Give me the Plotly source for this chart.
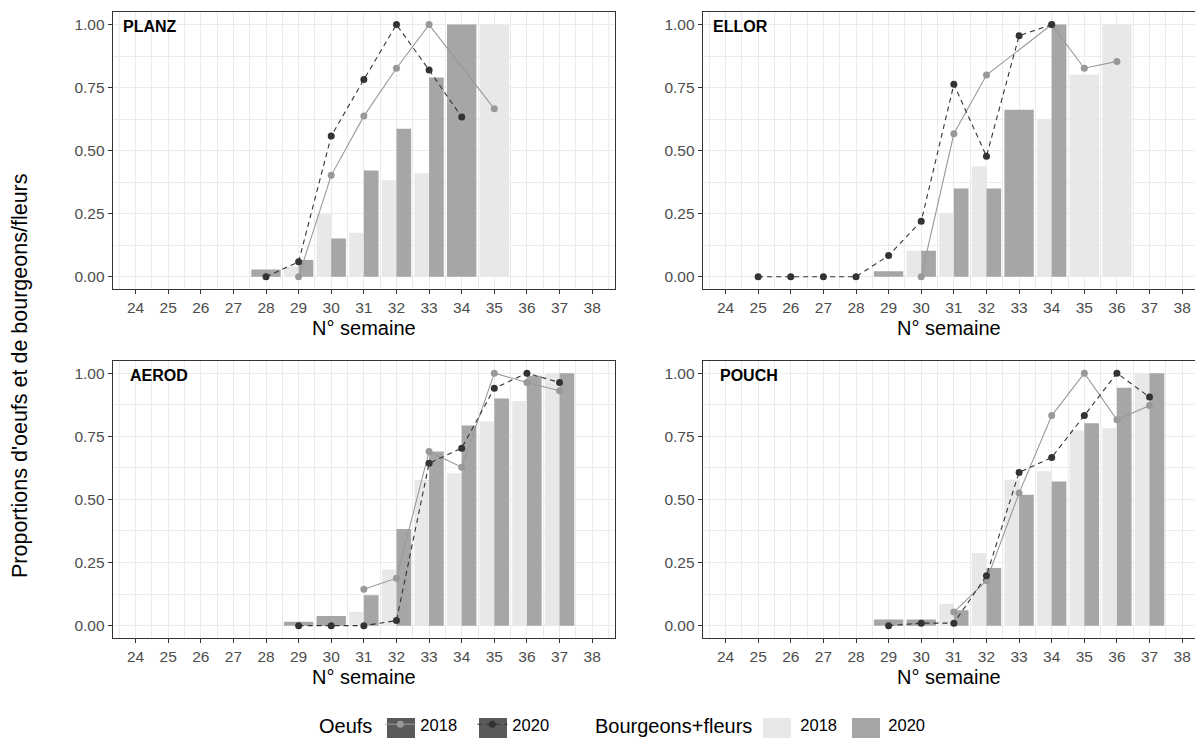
import plotly.graph_objects as go

# ---------------- data ----------------
sites = ["PLANZ", "ELLOR", "AEROD", "POUCH"]
week_ticks = list(range(24, 39))
y_ticks = [0.0, 0.25, 0.5, 0.75, 1.0]

# Bourgeons+fleurs (bars)
planz_bud18_weeks = [29, 30, 31, 32, 33, 35]
planz_bud18 = [0.04, 0.248, 0.174, 0.383, 0.41, 1.0]
planz_bud20_weeks = [28, 29, 30, 31, 32, 33, 34]
planz_bud20 = [0.029, 0.066, 0.152, 0.421, 0.587, 0.79, 1.0]

ellor_bud18_weeks = [30, 31, 32, 34, 35, 36]
ellor_bud18 = [0.103, 0.253, 0.438, 0.624, 0.802, 1.0]
ellor_bud20_weeks = [29, 30, 31, 32, 33, 34]
ellor_bud20 = [0.022, 0.103, 0.35, 0.35, 0.662, 1.0]

aerod_bud18_weeks = [31, 32, 33, 34, 35, 36, 37]
aerod_bud18 = [0.055, 0.222, 0.577, 0.604, 0.808, 0.89, 1.0]
aerod_bud20_weeks = [29, 30, 31, 32, 33, 34, 35, 36, 37]
aerod_bud20 = [0.016, 0.038, 0.12, 0.383, 0.69, 0.793, 0.90, 0.99, 1.0]

pouch_bud18_weeks = [31, 32, 33, 34, 35, 36, 37]
pouch_bud18 = [0.087, 0.288, 0.578, 0.611, 0.773, 0.782, 1.0]
pouch_bud20_weeks = [29, 30, 31, 32, 33, 34, 35, 36, 37]
pouch_bud20 = [0.024, 0.024, 0.061, 0.228, 0.518, 0.571, 0.802, 0.942, 1.0]

# Oeufs (points + lines)
planz_egg18_weeks = [29, 30, 31, 32, 33, 35]
planz_egg18 = [0.0, 0.402, 0.637, 0.827, 1.0, 0.666]
planz_egg20_weeks = [28, 29, 30, 31, 32, 33, 34]
planz_egg20 = [0.0, 0.059, 0.558, 0.782, 1.0, 0.82, 0.633]

ellor_egg18_weeks = [30, 31, 32, 34, 35, 36]
ellor_egg18 = [0.0, 0.567, 0.80, 1.0, 0.827, 0.854]
ellor_egg20_weeks = [25, 26, 27, 28, 29, 30, 31, 32, 33, 34]
ellor_egg20 = [0.0, 0.0, 0.0, 0.0, 0.084, 0.22, 0.763, 0.478, 0.956, 1.0]

aerod_egg18_weeks = [31, 32, 33, 34, 35, 36, 37]
aerod_egg18 = [0.144, 0.188, 0.69, 0.627, 1.0, 0.963, 0.93]
aerod_egg20_weeks = [29, 30, 31, 32, 33, 34, 35, 36, 37]
aerod_egg20 = [0.0, 0.0, 0.0, 0.02, 0.643, 0.703, 0.94, 1.0, 0.963]

pouch_egg18_weeks = [31, 32, 33, 34, 35, 36, 37]
pouch_egg18 = [0.054, 0.178, 0.525, 0.832, 1.0, 0.815, 0.872]
pouch_egg20_weeks = [29, 30, 31, 32, 33, 34, 35, 36, 37]
pouch_egg20 = [0.0, 0.01, 0.01, 0.198, 0.607, 0.666, 0.832, 1.0, 0.905]

bud18_weeks = [planz_bud18_weeks, ellor_bud18_weeks, aerod_bud18_weeks, pouch_bud18_weeks]
bud18_vals = [planz_bud18, ellor_bud18, aerod_bud18, pouch_bud18]
bud20_weeks = [planz_bud20_weeks, ellor_bud20_weeks, aerod_bud20_weeks, pouch_bud20_weeks]
bud20_vals = [planz_bud20, ellor_bud20, aerod_bud20, pouch_bud20]
egg18_weeks = [planz_egg18_weeks, ellor_egg18_weeks, aerod_egg18_weeks, pouch_egg18_weeks]
egg18_vals = [planz_egg18, ellor_egg18, aerod_egg18, pouch_egg18]
egg20_weeks = [planz_egg20_weeks, ellor_egg20_weeks, aerod_egg20_weeks, pouch_egg20_weeks]
egg20_vals = [planz_egg20, ellor_egg20, aerod_egg20, pouch_egg20]

# ---------------- style ----------------
W, H = 1195, 738
FONT = "Liberation Sans"
C_BAR18 = "#E8E8E8"
C_BAR20 = "#A6A6A6"
C_EGG18 = "#999999"
C_EGG20 = "#333333"
C_KEY = "#5A5A5A"
BAR_W = 0.9

# panel boxes in pixels (left, right, top, bottom)
panels_px = [(112.7, 615.0, 12.0, 289.3), (702.7, 1205.0, 12.0, 289.3),
             (112.7, 615.0, 360.5, 638.3), (702.7, 1205.0, 360.5, 638.3)]
x_lo, x_hi = 23.3, 38.7
label_dx = [8, 8, 15, 15]

fig = go.Figure()


def dodge(weeks, other_weeks, first):
    widths, offsets = [], []
    for w in weeks:
        if w in other_weeks:
            widths.append(BAR_W / 2)
            offsets.append(-BAR_W / 2 if first else 0.0)
        else:
            widths.append(BAR_W)
            offsets.append(-BAR_W / 2)
    return widths, offsets


for i, site in enumerate(sites):
    sfx = "" if i == 0 else str(i + 1)
    xa, ya = "x" + sfx, "y" + sfx
    w18, o18 = dodge(bud18_weeks[i], bud20_weeks[i], True)
    w20, o20 = dodge(bud20_weeks[i], bud18_weeks[i], False)
    fig.add_trace(go.Bar(x=bud18_weeks[i], y=bud18_vals[i], width=w18, offset=o18,
                         marker=dict(color=C_BAR18, line=dict(width=0)),
                         name="2018", legend="legend2", showlegend=(i == 0),
                         xaxis=xa, yaxis=ya))
    fig.add_trace(go.Bar(x=bud20_weeks[i], y=bud20_vals[i], width=w20, offset=o20,
                         marker=dict(color=C_BAR20, line=dict(width=0)),
                         name="2020", legend="legend2", showlegend=(i == 0),
                         xaxis=xa, yaxis=ya))
    fig.add_trace(go.Scatter(x=egg18_weeks[i], y=egg18_vals[i], mode="lines+markers",
                             line=dict(color=C_EGG18, width=1.1),
                             marker=dict(color=C_EGG18, size=7),
                             name="2018", legend="legend", showlegend=(i == 0),
                             xaxis=xa, yaxis=ya))
    fig.add_trace(go.Scatter(x=egg20_weeks[i], y=egg20_vals[i], mode="lines+markers",
                             line=dict(color=C_EGG20, width=1.1, dash="5px,4px"),
                             marker=dict(color=C_EGG20, size=7),
                             name="2020", legend="legend", showlegend=(i == 0),
                             xaxis=xa, yaxis=ya))

layout = dict(width=W, height=H, autosize=False,
              margin=dict(l=0, r=0, t=0, b=0, autoexpand=False),
              paper_bgcolor="white", plot_bgcolor="white",
              barmode="overlay",
              font=dict(family=FONT, color="#000000"),
              showlegend=True)

annotations = []
for i, site in enumerate(sites):
    sfx = "" if i == 0 else str(i + 1)
    l, r, t, b = panels_px[i]
    r_vis = min(r, W)
    x_end = x_lo + (x_hi - x_lo) * (r_vis - l) / (r - l)
    right_panel = r > W
    layout["xaxis" + sfx] = dict(
        domain=[l / W, r_vis / W], anchor="y" + sfx,
        range=[x_lo, x_end], tickmode="array", tickvals=week_ticks,
        ticktext=[str(v) for v in week_ticks],
        ticks="outside", ticklen=4, tickwidth=1, tickcolor="#333333",
        tickfont=dict(size=15.5, color="#4D4D4D", family=FONT),
        showgrid=True, gridcolor="#EBEBEB", gridwidth=1,
        minor=dict(dtick=0.5, tick0=24, showgrid=True, gridcolor="#EBEBEB", gridwidth=0.6, ticks=""),
        showline=True, linecolor="#333333", linewidth=1.1, mirror=True,
        zeroline=False, automargin=False,
        title=dict(text="N° semaine", font=dict(size=20, color="#000000", family=FONT), standoff=6),
    )
    layout["yaxis" + sfx] = dict(
        domain=[1 - b / H, 1 - t / H], anchor="x" + sfx,
        range=[-0.05, 1.05], tickmode="array", tickvals=y_ticks,
        ticktext=["%.2f" % v for v in y_ticks],
        ticks="outside", ticklen=4, tickwidth=1, tickcolor="#333333",
        tickfont=dict(size=15.5, color="#4D4D4D", family=FONT),
        showgrid=True, gridcolor="#EBEBEB", gridwidth=1,
        minor=dict(dtick=0.125, tick0=0, showgrid=True, gridcolor="#EBEBEB", gridwidth=0.6, ticks=""),
        showline=True, linecolor="#333333", linewidth=1.1, mirror=(not right_panel),
        zeroline=False, automargin=False,
    )
    annotations.append(dict(text="<b>%s</b>" % site, xref="x%s domain" % sfx, yref="y%s domain" % sfx,
                            x=label_dx[i] / (r_vis - l), y=1 - 14.5 / (b - t),
                            xanchor="left", yanchor="middle", showarrow=False,
                            font=dict(size=16, color="#000000", family=FONT)))

annotations.append(dict(text="Proportions d'oeufs et de bourgeons/fleurs", xref="paper", yref="paper",
                        x=20 / W, y=1 - 376 / H, textangle=-90, showarrow=False,
                        xanchor="center", yanchor="middle",
                        font=dict(size=21.5, color="#000000", family=FONT)))
layout["annotations"] = annotations

# legend key backgrounds (ggplot-style key boxes)
key_boxes = [(387, 415, C_KEY), (479, 507, C_KEY), (763, 791, C_BAR18), (852, 880, C_BAR20)]
shapes = []
for x0, x1, col in key_boxes:
    shapes.append(dict(type="rect", xref="paper", yref="paper",
                       x0=x0 / W, x1=x1 / W, y0=1 - 750 / H, y1=1 - 718 / H,
                       fillcolor=col, line=dict(width=0), layer="above"))
layout["shapes"] = shapes

legend_y = 1 - 725 / H
layout["legend"] = dict(orientation="h", x=317 / W, xanchor="left", y=legend_y, yanchor="middle",
                        title=dict(text="Oeufs", side="left", font=dict(size=20, family=FONT)),
                        font=dict(size=16.5, family=FONT, color="#000000"),
                        bgcolor="rgba(0,0,0,0)", itemwidth=30,
                        entrywidth=47, entrywidthmode="pixels")
layout["legend2"] = dict(orientation="h", x=593 / W, xanchor="left", y=legend_y, yanchor="middle",
                         title=dict(text="Bourgeons+fleurs", side="left", font=dict(size=20, family=FONT)),
                         font=dict(size=16.5, family=FONT, color="#000000"),
                         bgcolor="rgba(0,0,0,0)", itemwidth=30,
                         entrywidth=43, entrywidthmode="pixels")

fig.update_layout(**layout)
fig.write_html("out.html")
